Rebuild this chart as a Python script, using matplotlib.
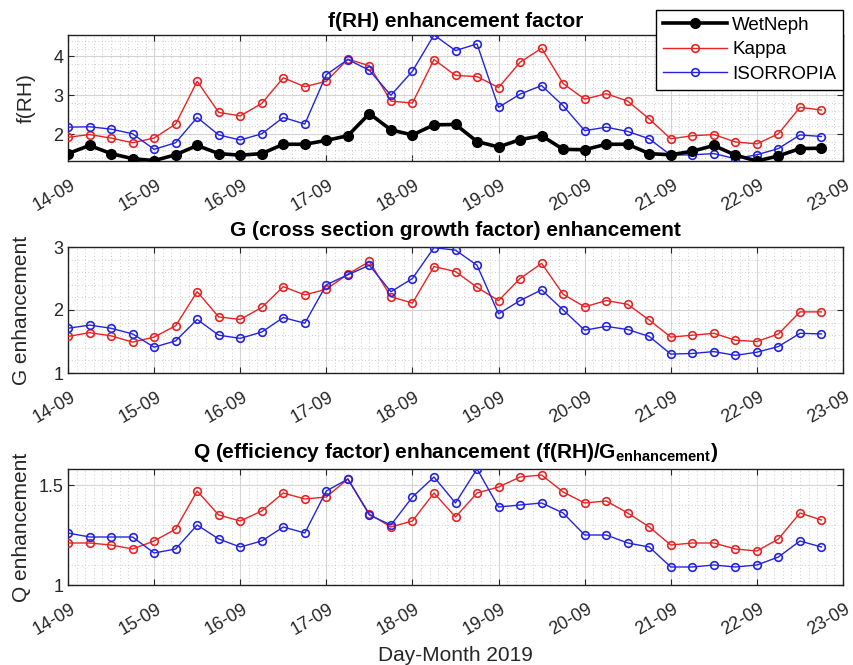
import numpy as np
import pandas as pd
import matplotlib
matplotlib.use('Agg')
import matplotlib.pyplot as plt
import matplotlib.dates as mdates
import matplotlib.transforms as mtransforms
from matplotlib.ticker import MultipleLocator, FixedLocator, FuncFormatter

plt.rcParams['font.family'] = ['Liberation Sans', 'DejaVu Sans']
plt.rcParams['mathtext.fontset'] = 'custom'
plt.rcParams['mathtext.rm'] = 'Liberation Sans'
plt.rcParams['mathtext.bf'] = 'Liberation Sans:bold'

# 6-hourly samples, 14-09 00:00 to 22-09 18:00
times = pd.date_range('2019-09-14 00:00', periods=36, freq='6h')

frh_wetneph = [1.50, 1.71, 1.50, 1.37, 1.32, 1.47, 1.71, 1.50, 1.46, 1.50, 1.74, 1.74,
               1.84, 1.96, 2.53, 2.11, 1.98, 2.24, 2.25, 1.81, 1.67, 1.86, 1.96, 1.61,
               1.60, 1.74, 1.74, 1.50, 1.47, 1.56, 1.71, 1.46, 1.31, 1.44, 1.63, 1.64]
frh_kappa = [1.92, 1.99, 1.90, 1.78, 1.90, 2.26, 3.36, 2.56, 2.47, 2.79, 3.45, 3.22,
             3.36, 3.93, 3.76, 2.85, 2.80, 3.92, 3.51, 3.48, 3.20, 3.85, 4.21, 3.30,
             2.90, 3.04, 2.85, 2.39, 1.88, 1.96, 1.99, 1.80, 1.75, 2.01, 2.69, 2.62]
frh_isorropia = [2.18, 2.19, 2.13, 2.01, 1.61, 1.78, 2.43, 1.98, 1.85, 2.01, 2.43, 2.26,
                 3.53, 3.92, 3.64, 3.00, 3.62, 4.55, 4.15, 4.32, 2.69, 3.03, 3.25, 2.73,
                 2.09, 2.18, 2.07, 1.88, 1.46, 1.47, 1.50, 1.37, 1.47, 1.63, 1.98, 1.94]

g_kappa = [1.58, 1.64, 1.59, 1.49, 1.57, 1.75, 2.29, 1.89, 1.85, 2.04, 2.37, 2.24,
           2.33, 2.57, 2.77, 2.21, 2.11, 2.69, 2.61, 2.36, 2.15, 2.50, 2.74, 2.25,
           2.05, 2.15, 2.09, 1.84, 1.57, 1.60, 1.63, 1.52, 1.50, 1.62, 1.97, 1.97]
g_isorropia = [1.71, 1.76, 1.71, 1.62, 1.41, 1.51, 1.85, 1.60, 1.55, 1.65, 1.88, 1.79,
               2.40, 2.56, 2.71, 2.29, 2.50, 2.99, 2.95, 2.71, 1.94, 2.15, 2.32, 2.00,
               1.68, 1.74, 1.69, 1.58, 1.30, 1.31, 1.34, 1.28, 1.33, 1.42, 1.63, 1.62]

q_kappa = [1.21, 1.21, 1.20, 1.18, 1.22, 1.28, 1.47, 1.35, 1.32, 1.37, 1.46, 1.43,
           1.44, 1.53, 1.355, 1.29, 1.32, 1.46, 1.34, 1.46, 1.49, 1.54, 1.55, 1.465,
           1.41, 1.42, 1.36, 1.29, 1.20, 1.21, 1.21, 1.18, 1.17, 1.23, 1.36, 1.325]
q_isorropia = [1.26, 1.24, 1.24, 1.24, 1.16, 1.18, 1.30, 1.23, 1.19, 1.22, 1.29, 1.26,
               1.47, 1.53, 1.35, 1.30, 1.44, 1.54, 1.41, 1.58, 1.39, 1.40, 1.41, 1.36,
               1.25, 1.25, 1.21, 1.19, 1.09, 1.09, 1.10, 1.09, 1.10, 1.14, 1.22, 1.19]

series_names = ['WetNeph', 'Kappa', 'ISORROPIA']
day_ticks = pd.date_range('2019-09-14', '2019-09-23', freq='D')

RED = '#e82424'
BLUE = '#2424e0'
TXT = '#262626'

W, H = 854, 665
fig = plt.figure(figsize=(W / 100, H / 100), dpi=100)


def box(left, top, right, bottom):
    return [left / W, 1 - bottom / H, (right - left) / W, (bottom - top) / H]


ax1 = fig.add_axes(box(68, 35, 843, 161))
ax2 = fig.add_axes(box(68, 247, 843, 373))
ax3 = fig.add_axes(box(68, 469, 843, 585))

# shift rotated date labels a little to the right of their ticks
label_shift = mtransforms.ScaledTranslation(2 / 100, 0, fig.dpi_scale_trans)


def style(ax, yticks, ymin_step, ylabel, label_right):
    ax.set_xlim(day_ticks[0], day_ticks[-1])
    ax.xaxis.set_major_locator(FixedLocator(mdates.date2num(day_ticks)))
    ax.xaxis.set_major_formatter(mdates.DateFormatter('%d-%m'))
    ax.xaxis.set_minor_locator(MultipleLocator(0.1))
    ax.yaxis.set_major_locator(FixedLocator(yticks))
    ax.yaxis.set_major_formatter(FuncFormatter(lambda v, p: f'{v:g}'))
    ax.yaxis.set_minor_locator(MultipleLocator(ymin_step))
    ax.grid(True, which='major', color='#d4d4d4', lw=0.8)
    ax.grid(True, which='minor', color='#bdbdbd', lw=0.6, ls=(0, (1, 3)))
    ax.set_axisbelow(True)
    ax.tick_params(which='major', direction='in', top=True, right=True,
                   length=4, width=0.8, labelsize=13, colors=TXT)
    ax.tick_params(axis='x', which='major', pad=11)
    ax.tick_params(which='minor', length=0)
    for lab in ax.get_xticklabels():
        lab.set_rotation(30)
        lab.set_ha('right')
        lab.set_rotation_mode('anchor')
        lab.set_transform(lab.get_transform() + label_shift)
    for s in ax.spines.values():
        s.set_color('#222222')
        s.set_linewidth(1.0)
    ax.set_ylabel(ylabel, fontsize=15, color=TXT)
    pos = ax.get_position()
    ax.yaxis.set_label_coords(label_right / W, pos.y0 + pos.height / 2,
                              transform=fig.transFigure)


kw_open = dict(lw=1.0, marker='o', ms=5.5, mfc='none', mew=1.2)

# f(RH)
ax1.plot(times, frh_wetneph, color='black', lw=2.6, marker='o', ms=7,
         mfc='black', mec='black', label=series_names[0], zorder=4)
ax1.plot(times, frh_kappa, color=RED, mec=RED, label=series_names[1], zorder=3, **kw_open)
ax1.plot(times, frh_isorropia, color=BLUE, mec=BLUE, label=series_names[2], zorder=3, **kw_open)
all_frh = np.concatenate([frh_wetneph, frh_kappa, frh_isorropia])
ax1.set_ylim(all_frh.min(), all_frh.max())
style(ax1, [2, 3, 4], 0.2, 'f(RH)', 36)
ax1.set_title('f(RH) enhancement factor', fontsize=15, fontweight='bold', pad=6)

# G
ax2.plot(times, g_kappa, color=RED, mec=RED, zorder=3, **kw_open)
ax2.plot(times, g_isorropia, color=BLUE, mec=BLUE, zorder=3, **kw_open)
ax2.set_ylim(1, 3)
style(ax2, [1, 2, 3], 0.2, 'G enhancement', 31)
ax2.set_title('G (cross section growth factor) enhancement', fontsize=15,
              fontweight='bold', pad=8)

# Q
ax3.plot(times, q_kappa, color=RED, mec=RED, zorder=3, **kw_open)
ax3.plot(times, q_isorropia, color=BLUE, mec=BLUE, zorder=3, **kw_open)
ax3.set_ylim(1, max(max(q_kappa), max(q_isorropia)))
style(ax3, [1, 1.5], 0.1, 'Q enhancement', 31)
ax3.set_title(r'Q (efficiency factor) enhancement (f(RH)/G$_{\mathbf{enhancement}}$)',
              fontsize=15, fontweight='bold', pad=8)
ax3.set_xlabel('Day-Month 2019', fontsize=15, color=TXT, labelpad=6)

leg = ax1.legend(loc='upper right', bbox_to_anchor=(843 / W, 1 - 10 / H),
                 bbox_transform=fig.transFigure, fontsize=13.5, frameon=True,
                 fancybox=False, framealpha=1, edgecolor='black',
                 handlelength=3.4, handletextpad=0.3, borderpad=0.35,
                 labelspacing=0.4, borderaxespad=0)
leg.get_frame().set_linewidth(1.0)
leg.set_zorder(10)

fig.savefig('out.png', dpi=100)
